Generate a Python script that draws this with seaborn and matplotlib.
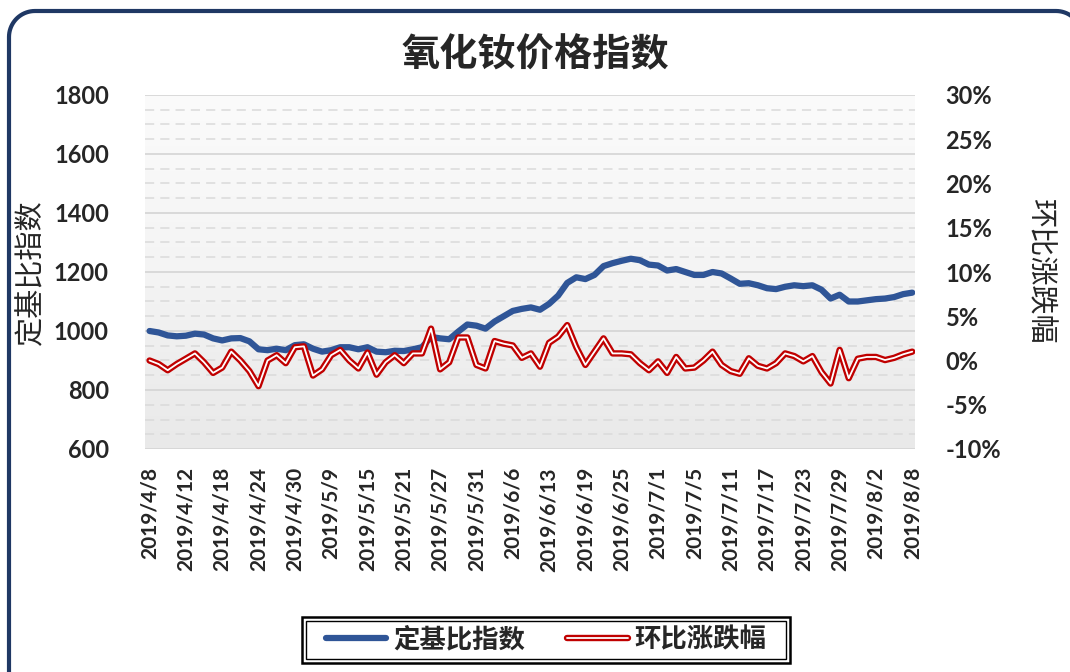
import matplotlib
matplotlib.use("Agg")
import matplotlib.pyplot as plt
import matplotlib.patheffects as pe
from matplotlib.patches import FancyBboxPatch
from matplotlib.lines import Line2D
from matplotlib.colors import LinearSegmentedColormap
from matplotlib.ticker import MultipleLocator, FuncFormatter
import numpy as np
import pandas as pd
import seaborn as sns

# 交易日（剔除五一、端午假期）
holidays = ["2019-05-01", "2019-05-02", "2019-05-03", "2019-06-07"]
dates = [d for d in pd.bdate_range("2019-04-08", "2019-08-08")
         if d.strftime("%Y-%m-%d") not in holidays]
date_labels = [f"{d.year}/{d.month}/{d.day}" for d in dates]

# 定基比指数
base_index = [1000, 995, 985, 982, 984, 991, 988, 975, 968, 975,
              976, 965, 938, 935, 940, 935, 952, 955, 940, 930,
              935, 945, 945, 938, 945, 930, 928, 933, 932, 938,
              945, 980, 975, 972, 998, 1022, 1018, 1008, 1032, 1050,
              1068, 1075, 1080, 1072, 1092, 1120, 1163, 1182, 1176, 1190,
              1220, 1230, 1238, 1245, 1240, 1225, 1222, 1205, 1210, 1200,
              1190, 1190, 1200, 1195, 1178, 1160, 1162, 1155, 1145, 1142,
              1150, 1155, 1152, 1155, 1140, 1110, 1123, 1100, 1100, 1104,
              1108, 1110, 1115, 1125, 1130]
# 环比涨跌幅 (%)
mom_change = [0.0, -0.4, -1.1, -0.4, 0.2, 0.8, -0.2, -1.4, -0.8, 1.0,
              0.0, -1.2, -2.9, 0.0, 0.6, -0.3, 1.5, 1.6, -1.7, -1.0,
              0.6, 1.2, 0.0, -0.9, 0.9, -1.6, -0.2, 0.6, -0.3, 0.8,
              0.8, 3.6, -1.0, -0.2, 2.6, 2.6, -0.5, -0.9, 2.2, 1.9,
              1.7, 0.3, 0.8, -0.7, 2.0, 2.7, 4.0, 1.5, -0.5, 1.0,
              2.5, 0.8, 0.8, 0.7, -0.3, -1.1, -0.1, -1.4, 0.4, -0.9,
              -0.8, 0.0, 1.0, -0.5, -1.2, -1.5, 0.25, -0.6, -0.9, -0.3,
              0.8, 0.5, -0.1, 0.5, -1.3, -2.6, 1.2, -2.0, 0.2, 0.4,
              0.4, 0.05, 0.3, 0.7, 1.0]

df = pd.DataFrame({"pos": np.arange(len(dates)),
                   "定基比指数": base_index,
                   "环比涨跌幅": mom_change})

sns.set_style("white")
plt.rcParams["font.family"] = ["Lato", "Noto Sans CJK SC", "DejaVu Sans"]
plt.rcParams["axes.unicode_minus"] = False
cjk = ["Noto Sans CJK SC", "DejaVu Sans"]

W, H = 1070, 672
fig = plt.figure(figsize=(W / 100, H / 100), dpi=100)
ax = fig.add_axes([145 / W, 1 - 449 / H, 770 / W, 354 / H])

# 背景渐变
cmap = LinearSegmentedColormap.from_list("bg", ["#fbfbfb", "#f4f4f4", "#e9e9e9"])
ax.imshow(np.linspace(0, 1, 200).reshape(-1, 1), extent=[0, 1, 0, 1],
          transform=ax.transAxes, cmap=cmap, aspect="auto", zorder=0)

sns.lineplot(data=df, x="pos", y="定基比指数", ax=ax, color="#2F5597",
             lw=4.5, solid_capstyle="round", solid_joinstyle="round",
             label="定基比指数", legend=False, zorder=3)

ax.set_ylim(600, 1800)
ax.set_xlim(-0.5, 84.3)
ax.yaxis.set_major_locator(MultipleLocator(200))
ax.yaxis.set_minor_locator(MultipleLocator(50))
ax.grid(which="major", axis="y", color="#d4d4d4", lw=1.2, ls="-")
ax.grid(which="minor", axis="y", color="#dadada", lw=1.1, ls=(0, (6, 4)))
ax.grid(which="major", axis="x", visible=False)
ax.set_axisbelow(True)
for s in ax.spines.values():
    s.set_visible(False)

ax.set_xticks(df["pos"][::4])
ax.set_xticklabels(date_labels[::4], rotation=90, fontsize=15, fontweight="bold")
ax.tick_params(axis="x", length=0, pad=13)
ax.tick_params(axis="y", which="both", length=0, pad=26, labelsize=17)
for t in ax.get_yticklabels():
    t.set_fontweight("bold")
ax.set_xlabel("")
ax.set_ylabel("定基比指数", fontsize=21, family=cjk)
ax.yaxis.set_label_coords((46 - 145) / 770, 0.5)

ax2 = ax.twinx()
sns.lineplot(data=df, x="pos", y="环比涨跌幅", ax=ax2, color="white", lw=1.3,
             label="环比涨跌幅", legend=False, zorder=4, solid_joinstyle="round",
             path_effects=[pe.Stroke(linewidth=4.6, foreground="#C00000"), pe.Normal()])
ax2.set_ylim(-10, 30)
ax2.set_xlim(-0.5, 84.3)
ax2.yaxis.set_major_locator(MultipleLocator(5))
ax2.yaxis.set_major_formatter(FuncFormatter(lambda v, p: f"{v:.0f}%"))
ax2.tick_params(axis="y", length=0, pad=22, labelsize=17)
for t in ax2.get_yticklabels():
    t.set_fontweight("bold")
ax2.grid(False)
for s in ax2.spines.values():
    s.set_visible(False)
ax2.set_ylabel("环比涨跌幅", fontsize=21, family=cjk, rotation=270, va="center")
ax2.yaxis.set_label_coords((1040 - 145) / 770, 0.5)

fig.text(0.5, 1 - 55 / H, "氧化钕价格指数", ha="center", va="center",
         fontsize=27.5, fontweight="bold", family=cjk)

h1, l1 = ax.get_legend_handles_labels()
h2, l2 = ax2.get_legend_handles_labels()
leg = fig.legend(h1 + h2, l1 + l2, loc="center", bbox_to_anchor=(546 / W, 1 - 640 / H),
                 ncol=2, frameon=False, handlelength=2.3,
                 handletextpad=0.25, columnspacing=1.6, borderpad=0.3,
                 prop={"family": cjk, "size": 19, "weight": "bold"})

# 外框（像素坐标，圆角）
r, x0, x1, y0 = 26, 9, 1082, 11
a = np.linspace(0, np.pi / 2, 20)
px = np.concatenate([[x0, x0], x0 + r - r * np.cos(a), x1 - r + r * np.sin(a), [x1, x1]])
py = np.concatenate([[H + 30, y0 + r], y0 + r - r * np.sin(a), y0 + r - r * np.cos(a), [y0 + r, H + 30]])
fig.add_artist(Line2D(px / W, 1 - py / H, transform=fig.transFigure,
                      color="#1F3864", lw=3, solid_joinstyle="round", zorder=10))

# 图例双线框
fig.canvas.draw()
bb = leg.get_window_extent().transformed(fig.dpi_scale_trans.inverted())
inner = FancyBboxPatch((bb.x0 - 0.12, bb.y0 + 0.02), bb.width + 0.24, bb.height - 0.04,
                       boxstyle="square,pad=0", transform=fig.dpi_scale_trans,
                       fill=False, edgecolor="black", lw=1.0, zorder=10)
outer = FancyBboxPatch((bb.x0 - 0.16, bb.y0 - 0.02), bb.width + 0.32, bb.height + 0.04,
                       boxstyle="square,pad=0", transform=fig.dpi_scale_trans,
                       fill=False, edgecolor="black", lw=1.8, zorder=10)
fig.patches.extend([inner, outer])

fig.savefig("out.png", dpi=100)
